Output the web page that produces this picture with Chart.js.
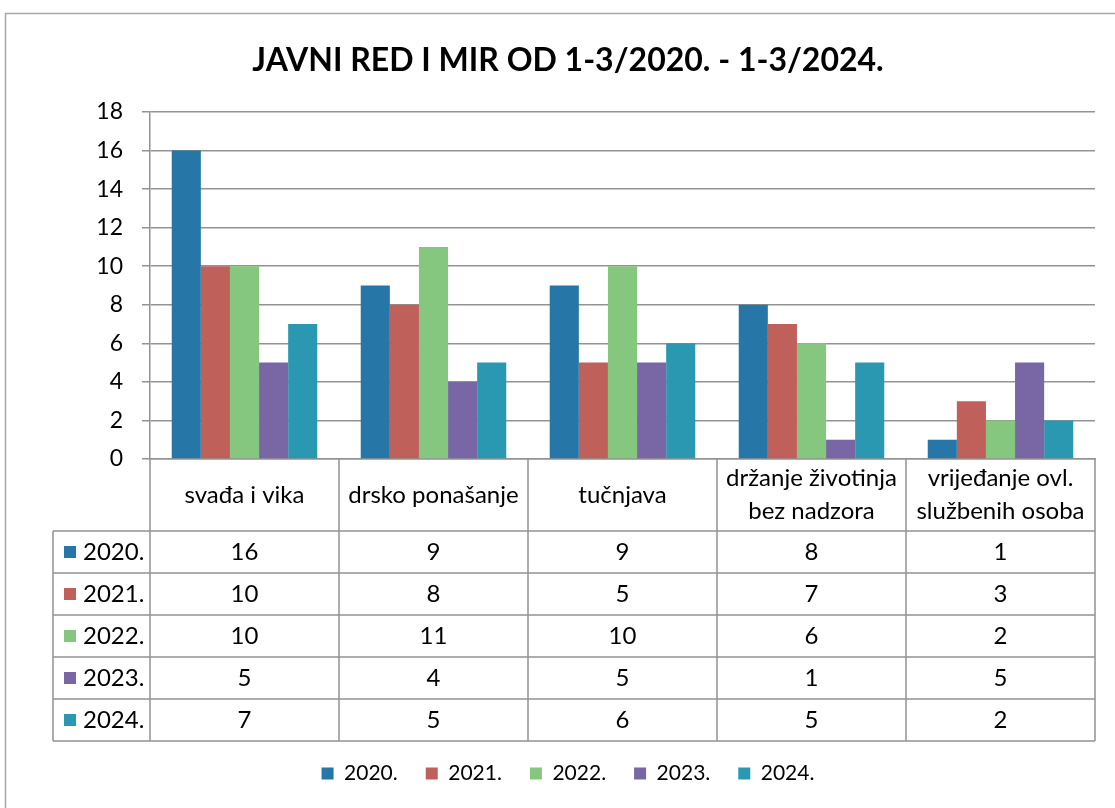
<!DOCTYPE html>
<html>
<head>
<meta charset="utf-8">
<script src="https://cdn.jsdelivr.net/npm/chart.js@4"></script>
<style>
  html, body { margin: 0; padding: 0; background: #fff; }
</style>
</head>
<body>
<canvas id="chart" width="1115" height="808"></canvas>
<script>
// data
const categories = [
    'svađa i vika',
    'drsko ponašanje',
    'tučnjava',
    ['držanje životinja', 'bez nadzora'],
    ['vrijeđanje ovl.', 'službenih osoba']
];
const years = ['2020.', '2021.', '2022.', '2023.', '2024.'];
const values2020 = [16, 9, 9, 8, 1];
const values2021 = [10, 8, 5, 7, 3];
const values2022 = [10, 11, 10, 6, 2];
const values2023 = [5, 4, 5, 1, 5];
const values2024 = [7, 5, 6, 5, 2];
const yMax = 18;
const yStep = 2;

const series = [values2020, values2021, values2022, values2023, values2024];
const colors = ['#2776a8', '#c0605b', '#86c77f', '#7866a5', '#2a98b0'];

const FONT = 'Lato, "Open Sans", sans-serif';
const lineColor = '#939393';

// white page and the thin frame round the chart
const framePlugin = {
    id: 'frame',
    beforeDraw(chart) {
        const ctx = chart.ctx;
        ctx.save();
        ctx.fillStyle = '#fff';
        ctx.fillRect(0, 0, chart.width, chart.height);
        ctx.strokeStyle = '#a8a8a8';
        ctx.lineWidth = 1.5;
        ctx.strokeRect(5.5, 13.5, chart.width + 40, chart.height + 40);
        ctx.restore();
    }
};

// data table under the x axis
const tablePlugin = {
    id: 'dataTable',
    afterDraw(chart) {
        const ctx = chart.ctx;
        const area = chart.chartArea;
        const x = chart.scales.x;
        const half = (x.getPixelForValue(1) - x.getPixelForValue(0)) / 2;
        const top = area.bottom;
        const headH = 72;
        const rowH = 42;
        const tableLeft = 53;
        const bottom = top + headH + rowH * years.length;

        ctx.save();
        ctx.strokeStyle = lineColor;
        ctx.lineWidth = 1.5;
        ctx.beginPath();
        for (let i = 0; i <= categories.length; i++) {
            const px = i < categories.length ? x.getPixelForValue(i) - half : area.right;
            ctx.moveTo(px, top);
            ctx.lineTo(px, bottom);
        }
        ctx.moveTo(tableLeft, top + headH);
        ctx.lineTo(tableLeft, bottom);
        for (let r = 0; r <= years.length; r++) {
            const py = top + headH + r * rowH;
            ctx.moveTo(tableLeft, py);
            ctx.lineTo(area.right, py);
        }
        ctx.stroke();

        ctx.fillStyle = '#000';
        ctx.textAlign = 'center';
        ctx.textBaseline = 'middle';
        ctx.font = '24px ' + FONT;
        categories.forEach((c, i) => {
            const cx = x.getPixelForValue(i);
            const lines = Array.isArray(c) ? c : [c];
            lines.forEach((t, k) => {
                const cy = top + headH / 2 + (k - (lines.length - 1) / 2) * 33;
                ctx.fillText(t, cx, cy);
            });
        });

        chart.data.datasets.forEach((ds, r) => {
            const cy = top + headH + r * rowH + rowH / 2;
            ctx.fillStyle = ds.backgroundColor;
            ctx.fillRect(tableLeft + 11, cy - 6, 12, 12);
            ctx.fillStyle = '#000';
            ctx.textAlign = 'left';
            ctx.fillText(ds.label, tableLeft + 30, cy);
            ctx.textAlign = 'center';
            ds.data.forEach((v, i) => {
                ctx.fillText(String(v), x.getPixelForValue(i), cy);
            });
        });
        ctx.restore();
    }
};

new Chart(document.getElementById('chart'), {
    type: 'bar',
    data: {
        labels: categories,
        datasets: years.map((y, i) => ({
            label: y,
            data: series[i],
            backgroundColor: colors[i],
            borderWidth: 0,
            categoryPercentage: 0.77,
            barPercentage: 1.0
        }))
    },
    options: {
        responsive: false,
        animation: false,
        layout: {
            padding: { top: 41, left: 41, right: 20, bottom: 14 }
        },
        plugins: {
            title: {
                display: true,
                text: 'JAVNI RED I MIR OD 1-3/2020. - 1-3/2024.',
                color: '#000',
                font: { family: FONT, size: 32, weight: 'bold' },
                padding: { top: 0, bottom: 32.6 }
            },
            legend: {
                position: 'bottom',
                labels: {
                    boxWidth: 12,
                    boxHeight: 12,
                    padding: 28,
                    color: '#000',
                    font: { family: FONT, size: 21 }
                }
            },
            tooltip: { enabled: false }
        },
        scales: {
            x: {
                grid: { display: false },
                border: { display: true, color: lineColor, width: 1.5 },
                ticks: { display: false },
                afterFit(scale) { scale.height = 276; }
            },
            y: {
                min: 0,
                max: yMax,
                ticks: {
                    stepSize: yStep,
                    padding: 19,
                    color: '#000',
                    font: { family: FONT, size: 23 }
                },
                grid: { color: lineColor, lineWidth: 1.5, tickLength: 8 },
                border: { display: true, color: lineColor, width: 1.5 },
                afterFit(scale) { scale.width = 109; }
            }
        }
    },
    plugins: [framePlugin, tablePlugin]
});
</script>
</body>
</html>
